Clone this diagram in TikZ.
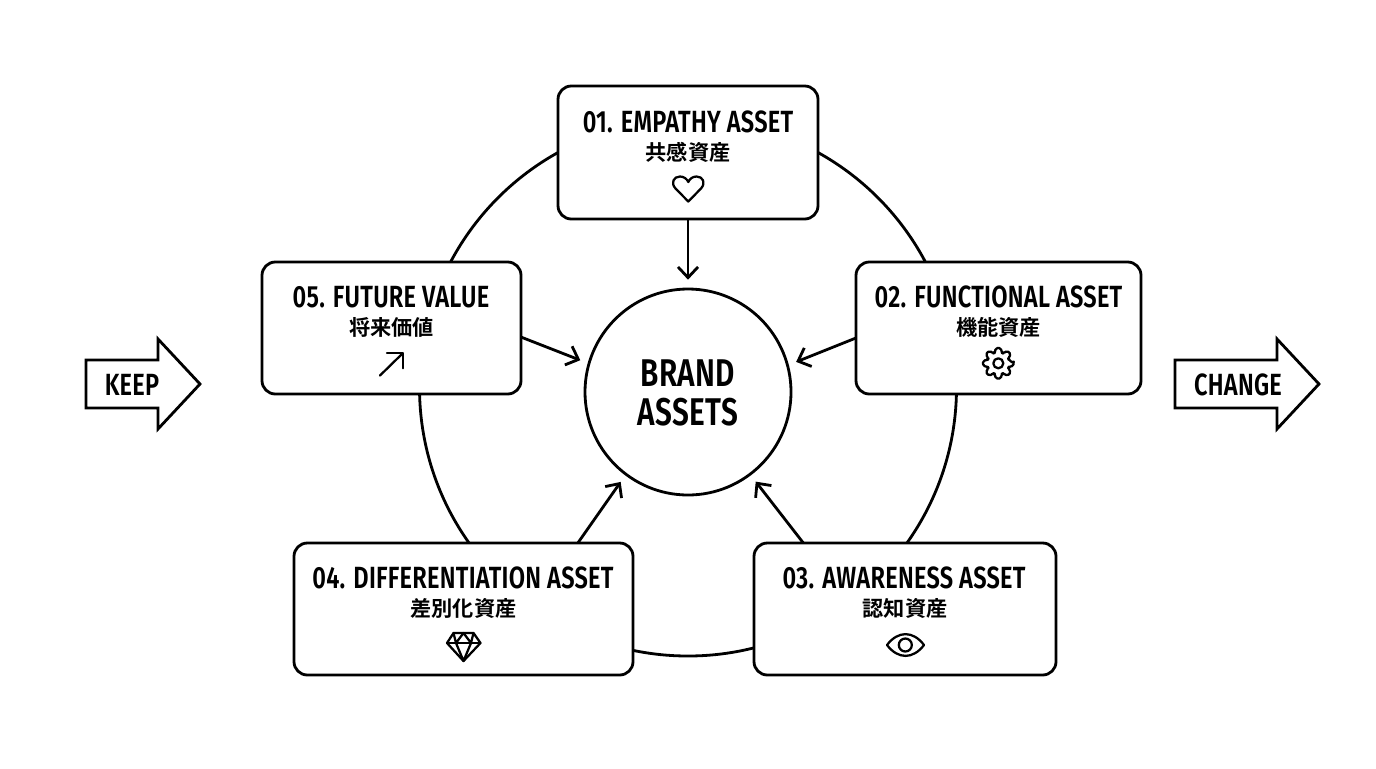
\documentclass[tikz,border=0pt]{standalone}
\usepackage{fontspec}
\usetikzlibrary{arrows.meta}
\newfontfamily\din[FakeStretch=0.77,LetterSpace=0.8]{Fira Sans SemiBold}
\newfontfamily\cjk{Noto Sans CJK JP Bold}
\tikzset{
  x=0.75pt,y=-0.75pt,
  ink/.style={line width=2.1pt,draw=black},
  card/.style n args={2}{ink,fill=white,rounded corners=10pt,minimum width=#1*0.75pt,minimum height=#2*0.75pt,outer sep=0pt,inner sep=0pt},
  title/.style={font=\din\fontsize{23}{26}\selectfont,inner sep=0pt},
  sub/.style={font=\cjk\fontsize{15.9}{18}\selectfont,inner sep=0pt},
  hubtext/.style={font=\din\fontsize{29}{29}\selectfont,inner sep=0pt},
  flow/.style={ink,-{Straight Barb[length=8pt,width=15pt,line width=2.1pt]},shorten >=7pt},
  glyph/.style={line width=1.7pt,draw=black,line join=round,line cap=round},
  bigarrow/.style={ink,line join=miter,fill=white},
}
\begin{document}
\begin{tikzpicture}
\useasboundingbox (0,0) rectangle (1376,768);
% ring
\draw[ink] (688,387.5) circle [radius=268.5];
% hub
\node[ink,fill=white,circle,minimum size=154.5pt,inner sep=0pt,outer sep=0pt] (core) at (688,392) {};
\node[hubtext] (brand) at (688,373) {BRAND};
\node[hubtext] (assets) at (688,412) {ASSETS};
% cards
\node[card={260}{133}] (n1) at (688,152.5) {};
\node[card={285}{132}] (n2) at (998.5,328) {};
\node[card={302}{132}] (n3) at (905,609) {};
\node[card={339}{132}] (n4) at (463.5,609) {};
\node[card={259}{132}] (n5) at (391.5,328) {};
% text
\node[title] (t1) at (688,122) {01. EMPATHY ASSET};
\node[sub] (s1) at (688,152) {共感資産};
\node[title] (t2) at (998.5,297) {02. FUNCTIONAL ASSET};
\node[sub] (s2) at (998.5,327) {機能資産};
\node[title] (t3) at (904,578) {03. AWARENESS ASSET};
\node[sub] (s3) at (905,608) {認知資産};
\node[title] (t4) at (463,578) {04. DIFFERENTIATION ASSET};
\node[sub] (s4) at (463.5,608) {差別化資産};
\node[title] (t5) at (391,297) {05. FUTURE VALUE};
\node[sub] (s5) at (391.5,327) {将来価値};
% connectors
\draw[flow] (n1.south) -- (core.north);
\draw[flow] (n2.184) -- (core.15.5);
\draw[flow] (n5.-4) -- (core.164.5);
\draw[flow] (n3.147.6) -- (core.-53.6);
\draw[flow] (n4.30.6) -- (core.233.6);
% heart
\draw[glyph] (688.3,201.5) -- (675.5,188.5) .. controls (670.5,183) and (673.5,176.5) .. (680,176.5)
  .. controls (684,176.5) and (687,179) .. (688.3,182) .. controls (689.6,179) and (692.6,176.5) .. (696.6,176.5)
  .. controls (703,176.5) and (706,183) .. (701,188.5) -- cycle;
% gear
\begin{scope}[shift={(998.3,363.3)}]
\draw[glyph,rounded corners=1.3pt] (0:15.5)
  \foreach \a in {0,45,...,315} {
    -- ({\a-10}:15.5) -- ({\a+10}:15.5) -- ({\a+18}:11) -- ({\a+27}:11)
  } -- cycle;
\draw[glyph] (0,0) circle [radius=5];
\end{scope}
% eye
\draw[glyph] (887,645) .. controls (898,630.5) and (913,630.5) .. (924,645) .. controls (913,659.5) and (898,659.5) .. (887,645) -- cycle;
\draw[glyph] (905.3,645) circle [radius=6.5];
% diamond
\draw[glyph] (453.5,633) -- (473.5,633) -- (480.5,643) -- (463.5,661) -- (447,643) -- cycle;
\draw[glyph] (447,643) -- (480.5,643);
\draw[glyph] (453.5,633) -- (456,643) -- (463.5,633) -- (471,643) -- (473.5,633);
\draw[glyph] (456,643) -- (463.5,661) -- (471,643);
% up arrow
\draw[glyph] (380,375.5) -- (402.7,353.3);
\draw[glyph] (387,353.3) -- (402.7,353.3) -- (402.7,368.3);
% keep / change
\draw[bigarrow] (86,360) -- (158,360) -- (158,339) -- (200,384) -- (158,429) -- (158,408) -- (86,408) -- cycle;
\node[title] (keep) at (132,385) {KEEP};
\draw[bigarrow] (1175,360) -- (1277,360) -- (1277,339) -- (1319,384) -- (1277,429) -- (1277,408) -- (1175,408) -- cycle;
\node[title] (change) at (1238,385) {CHANGE};
\end{tikzpicture}
\end{document}
